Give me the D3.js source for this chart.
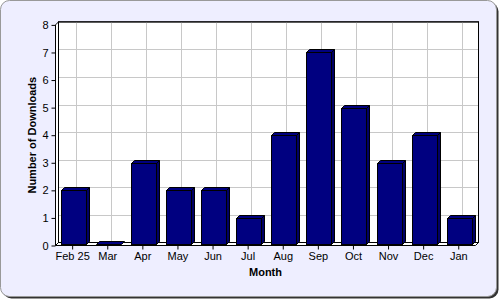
<!DOCTYPE html>
<html><head><meta charset="utf-8">
<script src="https://cdn.jsdelivr.net/npm/d3@7"></script>
<style>body{margin:0;background:#fff}svg{display:block}text{font-family:"Liberation Sans",Arial,sans-serif;}</style>
</head><body><svg id="c" width="500" height="300"></svg>
<script>
const categories = ["Feb 25","Mar","Apr","May","Jun","Jul","Aug","Sep","Oct","Nov","Dec","Jan"];
const downloads = [2,0,3,2,2,1,4,7,5,3,4,1];
const yTicks = [0,1,2,3,4,5,6,7,8];
const xTitle = "Month";
const yTitle = "Number of Downloads";

const svg = d3.select("#c");
const D = 3; // 3D depth
// frame
svg.append("rect").attr("x",2.5).attr("y",2.5).attr("width",496).attr("height",296).attr("rx",9).attr("fill","#333");
svg.append("rect").attr("x",0.5).attr("y",0.5).attr("width",496).attr("height",296).attr("rx",9).attr("fill","#EEEEFF").attr("stroke","#999").attr("stroke-width",1);

const x = d3.scaleBand().domain(categories).range([55.1, 476.3]);
const y = d3.scaleLinear().domain([0,8]).range([245.5, 24.9]);
const L = 55.5, R = 475.5, B = y(0), T = y(8);

// back wall
svg.append("rect").attr("x",L+D).attr("y",T-D).attr("width",R-L).attr("height",B-T)
  .attr("fill","#fff").attr("stroke","#000");
// left wall
svg.append("path").attr("d",`M${L},${B}L${L},${T}L${L+D},${T-D}L${L+D},${B-D}Z`).attr("fill","#fff").attr("stroke","#000");
// floor
svg.append("path").attr("d",`M${L},${B}L${L+D},${B-D}L${R+D},${B-D}L${R},${B}Z`).attr("fill","#fff").attr("stroke","#000");

// grid
const g = svg.append("g");
yTicks.slice(1,-1).forEach(v=>{
  g.append("line").attr("x1",L+D+0.5).attr("x2",R+D-0.5).attr("y1",Math.round(y(v))-D+0.5).attr("y2",Math.round(y(v))-D+0.5).attr("stroke","#c8c8c8");
});
categories.forEach(c=>{
  const cx = Math.round(x(c)+x.bandwidth()/2)+D+0.5;
  g.append("line").attr("x1",cx).attr("x2",cx).attr("y1",T-D+0.5).attr("y2",B-D-0.5).attr("stroke","#c8c8c8");
});
svg.append("rect").attr("x",L+D).attr("y",T-D).attr("width",R-L).attr("height",B-T)
  .attr("fill","none").attr("stroke","#000");

// bars
const bw = 25;
categories.forEach((c,i)=>{
  const cx = x(c)+x.bandwidth()/2;
  const x0 = Math.round(cx-12)+0.5, x1 = x0+bw;
  const yb = Math.round(B)-1.5;
  const yt = downloads[i] === 0 ? yb : Math.round(y(downloads[i]))+0.5;
  const bg = svg.append("g").attr("stroke","#000").attr("stroke-linejoin","miter");
  if (yt < yb) {
    bg.append("path").attr("d",`M${x1},${yb}L${x1},${yt}L${x1+D},${yt-D}L${x1+D},${yb-D}Z`).attr("fill","#000066");
  }
  bg.append("path").attr("d",`M${x0},${yt}L${x0+D},${yt-D}L${x1+D},${yt-D}L${x1},${yt}Z`).attr("fill","#000080");
  if (yt < yb) {
    bg.append("rect").attr("x",x0).attr("y",yt).attr("width",bw).attr("height",yb-yt).attr("fill","#000080");
  }
});

// y axis
const ya = svg.append("g").attr("transform",`translate(${L},0)`)
  .call(d3.axisLeft(y).tickValues(yTicks).tickSize(4).tickPadding(3).tickFormat(d3.format("d")));
ya.select(".domain").remove();
ya.selectAll("text").attr("font-size",11).attr("font-family","Liberation Sans, Arial").attr("fill","#000");
ya.selectAll("line").attr("stroke","#000");

// x axis
const xa = svg.append("g").attr("transform",`translate(0,${B})`)
  .call(d3.axisBottom(x).tickSize(4).tickPadding(3));
xa.select(".domain").remove();
xa.selectAll("text").attr("font-size",11).attr("font-family","Liberation Sans, Arial").attr("fill","#000");
xa.selectAll("line").attr("stroke","#000");

svg.append("text").attr("x",(L+R)/2).attr("y",276).attr("text-anchor","middle")
  .attr("font-size",11).attr("font-weight","bold").text(xTitle);
svg.append("text").attr("transform",`translate(36,${(T+B)/2}) rotate(-90)`).attr("text-anchor","middle")
  .attr("font-size",11).attr("font-weight","bold").text(yTitle);
</script></body></html>
